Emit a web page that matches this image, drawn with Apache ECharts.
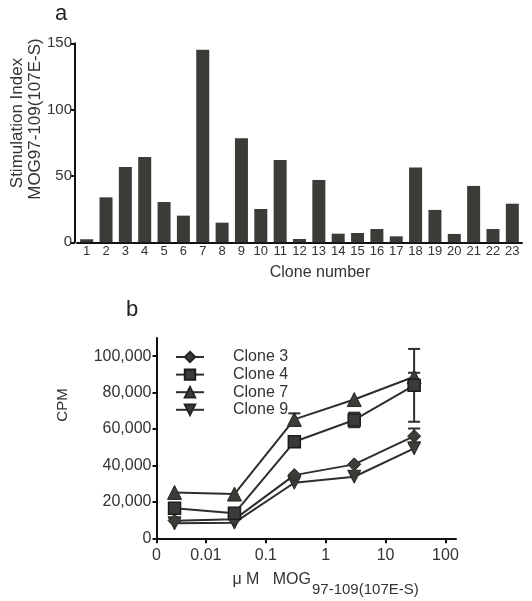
<!DOCTYPE html>
<html>
<head>
<meta charset="utf-8">
<script src="https://cdn.jsdelivr.net/npm/echarts@6/dist/echarts.min.js"></script>
<style>
  html, body { margin: 0; padding: 0; background: #fff; }
  #chart { width: 532px; height: 601px; }
</style>
</head>
<body>
<div id="chart"></div>
<script>
// ---------- Panel a data ----------
const cloneNumbers = ['1','2','3','4','5','6','7','8','9','10','11','12','13','14','15','16','17','18','19','20','21','22','23'];
const stimulationIndex = [2.3, 33.9, 56.8, 64.3, 30.4, 20.1, 145.2, 14.8, 78.4, 25.1, 62.1, 2.5, 47, 6.5, 7, 10, 4.5, 56.3, 24.4, 6.3, 42.5, 10, 29.1];
const yTicksA = [0, 50, 100, 150];

// ---------- Panel b data ----------
const concentrations = [0.003, 0.03, 0.3, 3, 30];
const clone3 = [9700, 10400, 34700, 40600, 56100];
const clone4 = [16500, 13700, 53000, 65000, 84000];
const clone7 = [25200, 24300, 65300, 76200, 88700];
const clone9 = [8200, 8600, 30500, 33800, 49400];
const clone3Err = [0, 0, 0, 0, 4200];
const clone4Err = [0, 0, 0, 4000, 20000];
const clone7Err = [0, 0, 3300, 0, 2200];
const clone9Err = [0, 0, 0, 0, 0];
const xTickValuesB = [0.0015, 0.01, 0.1, 1, 10, 100];
const xTickLabelsB = ['0', '0.01', '0.1', '1', '10', '100'];
const yTickValuesB = [0, 20000, 40000, 60000, 80000, 100000];

const FONT = '"Liberation Sans", Arial, Helvetica, sans-serif';
const TXT = '#333';
const INK = '#2e2e2c';

function pairs(ys) { return concentrations.map((x, i) => [x, ys[i]]); }
function errData(ys, es) {
  const out = [];
  ys.forEach((y, i) => { if (es[i] > 0) out.push([concentrations[i], y - es[i], y + es[i]]); });
  return out;
}

const chart = echarts.init(document.getElementById('chart'), null, { renderer: 'canvas' });

const lineBase = {
  type: 'line',
  xAxisIndex: 1,
  yAxisIndex: 1,
  lineStyle: { color: INK, width: 2 },
  itemStyle: { color: '#3c3d39', borderColor: '#252523', borderWidth: 1 },
  z: 3
};

chart.setOption({
  animation: false,
  backgroundColor: '#fff',
  textStyle: { fontFamily: FONT },
  grid: [
    { left: 77, right: 10, top: 43.3, bottom: 358.7, containLabel: false },
    { left: 156.5, right: 76, top: 338, bottom: 62.7, containLabel: false }
  ],
  xAxis: [
    {
      type: 'category',
      gridIndex: 0,
      data: cloneNumbers,
      axisLine: { lineStyle: { color: '#111', width: 2 } },
      axisTick: { show: false },
      axisLabel: { color: TXT, fontSize: 13, margin: 3, fontFamily: FONT, interval: 0 }
    },
    {
      type: 'log',
      gridIndex: 1,
      logBase: 10,
      min: 0.0015,
      max: 150,
      splitLine: { show: false },
      axisLine: { onZero: false, lineStyle: { color: '#111', width: 2 } },
      axisTick: { customValues: xTickValuesB, length: 5, lineStyle: { color: '#111', width: 2 } },
      minorTick: { show: false },
      axisLabel: {
        customValues: xTickValuesB,
        color: TXT, fontSize: 16, margin: 9, fontFamily: FONT,
        formatter: function (v) {
          let best = 0, bd = Infinity;
          xTickValuesB.forEach((t, i) => { const d = Math.abs(Math.log10(v) - Math.log10(t)); if (d < bd) { bd = d; best = i; } });
          return xTickLabelsB[best];
        }
      }
    }
  ],
  yAxis: [
    {
      type: 'value',
      gridIndex: 0,
      min: 0, max: 150, interval: 50,
      offset: 2,
      splitLine: { show: false },
      axisLine: { show: true, lineStyle: { color: '#111', width: 2 } },
      axisTick: { show: true, length: 4, lineStyle: { color: '#111', width: 2 } },
      axisLabel: { color: TXT, fontSize: 15, margin: 3, fontFamily: FONT }
    },
    {
      type: 'value',
      gridIndex: 1,
      min: 0, max: 110000,
      splitLine: { show: false },
      axisLine: { show: true, onZero: false, lineStyle: { color: '#111', width: 2 } },
      axisTick: { show: true, customValues: yTickValuesB, length: 4, lineStyle: { color: '#111', width: 2 } },
      axisLabel: {
        customValues: yTickValuesB,
        color: TXT, fontSize: 16, margin: 5, fontFamily: FONT,
        formatter: function (v) { return Math.round(v).toLocaleString('en-US'); }
      }
    }
  ],
  legend: {
    data: ['Clone 3', 'Clone 4', 'Clone 7', 'Clone 9'],
    orient: 'vertical',
    left: 175,
    top: 349,
    itemWidth: 28,
    itemHeight: 13,
    itemGap: 1.6,
    padding: 0,
    textStyle: { color: TXT, fontSize: 16, lineHeight: 13, fontFamily: FONT, padding: [0, 0, 0, 24] }
  },
  series: [
    {
      type: 'bar',
      xAxisIndex: 0,
      yAxisIndex: 0,
      data: stimulationIndex,
      barWidth: 13,
      itemStyle: { color: '#3b3c37' }
    },
    {
      type: 'custom',
      name: 'errorbars',
      xAxisIndex: 1,
      yAxisIndex: 1,
      z: 2,
      data: [].concat(errData(clone3, clone3Err), errData(clone4, clone4Err), errData(clone7, clone7Err), errData(clone9, clone9Err)),
      renderItem: function (params, api) {
        const x = api.value(0);
        const lo = api.coord([x, api.value(1)]);
        const hi = api.coord([x, api.value(2)]);
        const hw = 6;
        const st = { stroke: INK, lineWidth: 2 };
        return {
          type: 'group',
          children: [
            { type: 'line', shape: { x1: lo[0], y1: lo[1], x2: hi[0], y2: hi[1] }, style: st },
            { type: 'line', shape: { x1: hi[0] - hw, y1: hi[1], x2: hi[0] + hw, y2: hi[1] }, style: st },
            { type: 'line', shape: { x1: lo[0] - hw, y1: lo[1], x2: lo[0] + hw, y2: lo[1] }, style: st }
          ]
        };
      }
    },
    Object.assign({}, lineBase, { name: 'Clone 9', data: pairs(clone9), symbol: 'triangle', symbolRotate: 180, symbolSize: 13 }),
    Object.assign({}, lineBase, { name: 'Clone 3', data: pairs(clone3), symbol: 'diamond', symbolSize: 13 }),
    Object.assign({}, lineBase, { name: 'Clone 7', data: pairs(clone7), symbol: 'triangle', symbolSize: 14 }),
    Object.assign({}, lineBase, { name: 'Clone 4', data: pairs(clone4), symbol: 'rect', symbolSize: 12,
      itemStyle: { color: '#3a3a38', borderColor: '#1c1c1b', borderWidth: 1.5 } })
  ],
  graphic: [
    { type: 'text', left: 55, top: 3, style: { text: 'a', fontSize: 22, fontFamily: FONT, fill: '#222' } },
    { type: 'text', left: 126, top: 299, style: { text: 'b', fontSize: 22, fontFamily: FONT, fill: '#222' } },
    { type: 'text', x: 17, y: 123, rotation: Math.PI / 2,
      style: { text: 'Stimulation Index', fontSize: 17, fontFamily: FONT, fill: TXT, align: 'center', verticalAlign: 'middle' } },
    { type: 'text', x: 35, y: 119, rotation: Math.PI / 2,
      style: { text: 'MOG97-109(107E-S)', fontSize: 17, fontFamily: FONT, fill: TXT, align: 'center', verticalAlign: 'middle' } },
    { type: 'text', x: 320, y: 273,
      style: { text: 'Clone number', fontSize: 16, fontFamily: FONT, fill: TXT, align: 'center', verticalAlign: 'middle' } },
    { type: 'text', x: 63, y: 405, rotation: Math.PI / 2,
      style: { text: 'CPM', fontSize: 15, fontFamily: FONT, fill: TXT, align: 'center', verticalAlign: 'middle' } },
    { type: 'text', x: 311, y: 580,
      style: { text: 'μ M   MOG', fontSize: 16, fontFamily: FONT, fill: TXT, align: 'right', verticalAlign: 'middle' } },
    { type: 'text', x: 312, y: 590,
      style: { text: '97-109(107E-S)', fontSize: 15, fontFamily: FONT, fill: TXT, align: 'left', verticalAlign: 'middle' } }
  ]
});
</script>
</body>
</html>
